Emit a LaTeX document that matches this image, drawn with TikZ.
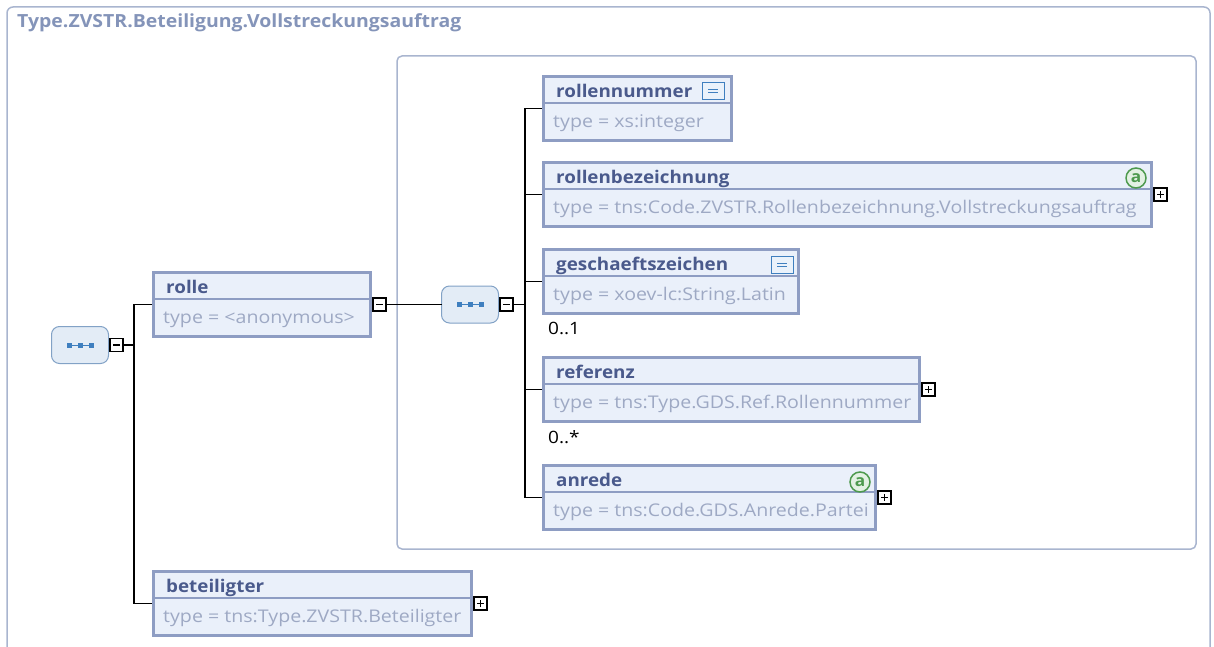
\documentclass[tikz,border=0pt]{standalone}
\usepackage{fontspec}
\setmainfont{Open Sans}[FakeStretch=1.12, BoldFeatures={FakeStretch=1.075}]
\usetikzlibrary{positioning}
\definecolor{framecol}{HTML}{A9B5CF}
\definecolor{boxcol}{HTML}{8E9DC3}
\definecolor{boxfill}{HTML}{EAF0FA}
\definecolor{namecol}{HTML}{4A5A8C}
\definecolor{typecol}{HTML}{9EA9C4}
\definecolor{titlecol}{HTML}{8494B9}
\definecolor{seqfill}{HTML}{E3ECF6}
\definecolor{seqcol}{HTML}{82A2C6}
\definecolor{dotcol}{HTML}{3F7FBF}
\definecolor{docfill}{HTML}{EAF2FB}
\definecolor{annocol}{HTML}{4E9A4E}
\definecolor{annofill}{HTML}{E3F1E3}

\tikzset{
  elem/.style={draw=boxcol, fill=boxfill, line width=3pt, minimum height=64pt, inner sep=0pt, outer sep=0pt, anchor=north west},
  sepline/.style={draw=boxcol, line width=1.2pt},
  ename/.style={font=\fontsize{17.5}{20}\selectfont\bfseries, text=namecol, inner sep=0pt, anchor=base west},
  etype/.style={font=\fontsize{17.5}{20}\selectfont, text=typecol, inner sep=0pt, anchor=base west},
  title/.style={font=\fontsize{18.1}{20}\selectfont\bfseries, text=titlecol, inner sep=0pt, anchor=base west},
  card/.style={font=\fontsize{17}{20}\selectfont, inner sep=0pt, anchor=base west},
  seq/.style={draw=seqcol, fill=seqfill, rounded corners=8pt, line width=1pt, minimum width=57pt, minimum height=37pt, outer sep=0pt},
  pm/.style={draw=black, fill=white, line width=1.4pt, minimum size=13pt, inner sep=0pt, outer sep=0pt, anchor=west},
  minusbox/.style={pm, path picture={\draw[line width=1.3pt] ([xshift=-3.5pt]path picture bounding box.center) -- ([xshift=3.5pt]path picture bounding box.center);}},
  plusbox/.style={pm, path picture={\draw[line width=1.3pt] ([xshift=-3.5pt]path picture bounding box.center) -- ([xshift=3.5pt]path picture bounding box.center) ([yshift=-3.5pt]path picture bounding box.center) -- ([yshift=3.5pt]path picture bounding box.center);}},
  docicon/.style={draw=dotcol, fill=docfill, line width=1pt, minimum width=22pt, minimum height=17pt, inner sep=0pt, path picture={\draw[dotcol, line width=1pt] ([xshift=-5pt,yshift=1.8pt]path picture bounding box.center) -- ([xshift=5pt,yshift=1.8pt]path picture bounding box.center) ([xshift=-5pt,yshift=-1.8pt]path picture bounding box.center) -- ([xshift=5pt,yshift=-1.8pt]path picture bounding box.center);}},
  anno/.style={circle, draw=annocol, fill=annofill, line width=1.5pt, minimum size=20pt, inner sep=0pt, font=\fontsize{16}{16}\selectfont\bfseries, text=annocol},
  conn/.style={draw=black, line width=1.9pt},
}

\begin{document}
\begin{tikzpicture}[x=1pt,y=-1pt]
\useasboundingbox (0,0) rectangle (1214,647);
% frames
\draw[framecol, line width=1.5pt, rounded corners=6pt] (7,647) -- (7,7) -- (1210,7) -- (1210,647);
\node[title] (ttl) at (17,28) {Type.ZVSTR.Beteiligung.Vollstreckungsauftrag};
\draw[framecol, line width=1.5pt, rounded corners=5pt] (397,56) rectangle (1196,549);

% compositors
\node[seq] (seq0) at (80,345) {};
\node[seq] (seq1) at (470,304.5) {};
\foreach \s in {seq0,seq1}
{
	\draw[dotcol, line width=0.8pt] ([xshift=-11pt]\s.center) -- ([xshift=11pt]\s.center);
	\foreach \d in {-11,0,11}
		\fill[dotcol] ([xshift=\d pt]\s.center) +(-2.5,-2.5) rectangle +(2.5,2.5);
}

% elements
\foreach \n/\x/\y/\w/\ty in {rolle/153.5/272.5/217/{<anonymous>},
	rollennummer/543.5/76.5/188/{xs:integer},
	rollenbezeichnung/543.5/162.5/608/{tns:Code.ZVSTR.Rollenbezeichnung.Vollstreckungsauftrag},
	geschaeftszeichen/543.5/249.5/255/{xoev-lc:String.Latin},
	referenz/543.5/357.5/376/{tns:Type.GDS.Ref.Rollennummer},
	anrede/543.5/465.5/332/{tns:Code.GDS.Anrede.Partei},
	beteiligter/153.5/571.5/318/{tns:Type.ZVSTR.Beteiligter}}
{
	\node[elem, minimum width=\w pt] (\n) at (\x,\y) {};
	\draw[sepline] ([yshift=-26.5pt]\n.north west) -- ([yshift=-26.5pt]\n.north east);
	\node[ename] at ([xshift=12.5pt,yshift=-21pt]\n.north west) {\n};
	\node[etype] at ([xshift=9.5pt,yshift=-51pt]\n.north west) {type = \ty};
}

% expand / collapse boxes
\node[minusbox] (m0) at ([xshift=1.5pt]seq0.east) {};
\node[minusbox] (m1) at ([xshift=2.5pt]rolle.east) {};
\node[minusbox] (m2) at ([xshift=1.5pt]seq1.east) {};
\foreach \c in {rollenbezeichnung,referenz,anrede,beteiligter}
	\node[plusbox] (p-\c) at ([xshift=2.5pt]\c.east) {};

% connectors
\coordinate (j0) at (134,345);
\coordinate (j1) at (525,304.5);
\draw[conn] (m0.east) -- (j0);
\draw[conn, shorten <=1.5pt, shorten >=1.5pt] (rolle.west) -| (j0) |- (beteiligter.west);
\draw[conn] (m1.east) -- (m1.east -| seq1.west);
\draw[conn] (m2.east) -- (j1);
\foreach \c in {rollennummer,rollenbezeichnung,geschaeftszeichen,referenz,anrede}
	\draw[conn, shorten >=1.5pt] (j1) |- (\c.west);

% icons
\node[docicon] (doc1) at (713,91) {};
\node[docicon] (doc2) at (782,265) {};
\node[anno] (anno1) at (1136,178) {a};
\node[anno] (anno2) at (860,482) {a};

% cardinalities
\node[card] (card1) at (548,334) {0..1};
\node[card] (card2) at (548,443) {0..*};
\end{tikzpicture}
\end{document}
